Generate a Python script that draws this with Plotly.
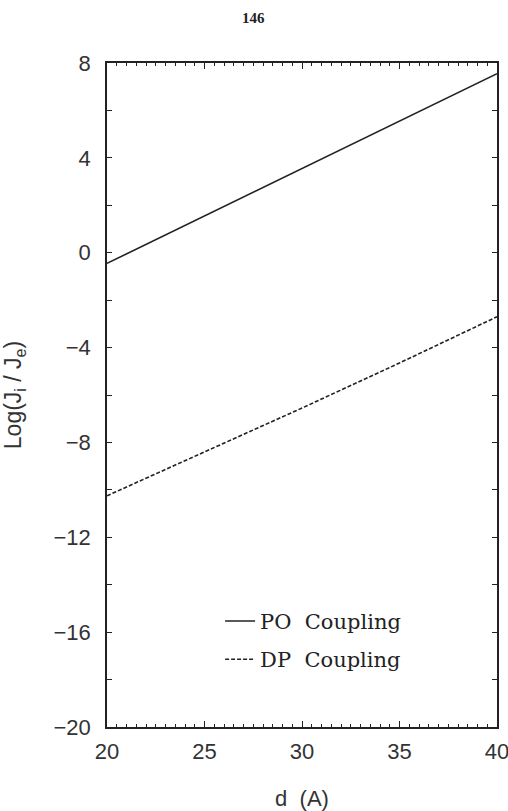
import plotly.graph_objects as go

d_vals = [20, 25, 30, 35, 40]
po_vals = [-0.45, 1.55, 3.55, 5.55, 7.55]
dp_vals = [-10.25, -8.4, -6.55, -4.65, -2.7]

series_names = ["PO  Coupling", "DP  Coupling"]
x_ticks = [20, 25, 30, 35, 40]
y_ticks = [8, 4, 0, -4, -8, -12, -16, -20]

ink = "#222222"
tickfont = dict(family="Liberation Sans, Arial, sans-serif", size=22, color="#333333")

fig = go.Figure()
fig.add_trace(go.Scatter(x=d_vals, y=po_vals, mode="lines", name=series_names[0],
                         legendgroup="a", line=dict(color=ink, width=1.6)))
fig.add_trace(go.Scatter(x=d_vals, y=dp_vals, mode="lines", name=series_names[1],
                         legendgroup="b", line=dict(color=ink, width=1.6, dash="4px,2px")))

fig.update_layout(
    width=508, height=811,
    margin=dict(l=107, r=11, t=63, b=84, autoexpand=False),
    paper_bgcolor="white", plot_bgcolor="white",
    showlegend=True,
    legend=dict(x=0.29, y=0.19, xanchor="left", yanchor="top",
                font=dict(family="DejaVu Serif, Liberation Serif, serif", size=21, color=ink),
                bgcolor="rgba(0,0,0,0)", itemwidth=30, tracegroupgap=8),
    annotations=[dict(text="<b>146</b>", xref="paper", yref="paper", x=0.5, y=1,
                      yshift=55, xshift=-49, showarrow=False,
                      font=dict(family="Liberation Serif, serif", size=15, color=ink))],
)

fig.update_xaxes(
    range=[20, 40], tickvals=x_ticks, ticktext=[str(v) for v in x_ticks],
    ticks="inside", ticklen=6, tickwidth=1.3, tickcolor=ink,
    minor=dict(dtick=0.5, tick0=20, ticks="inside", ticklen=3, tickwidth=1, tickcolor=ink),
    showline=True, linecolor=ink, linewidth=1.6, mirror="ticks",
    showgrid=False, zeroline=False, tickfont=tickfont, automargin=False,
    ticklabelstandoff=4, ticklabeloverflow="allow",
    title=dict(text="d  (A)", font=dict(family="Liberation Sans, Arial, sans-serif", size=22, color="#333333"), standoff=28),
)
fig.update_yaxes(
    range=[-20, 8], tickvals=y_ticks, ticktext=[str(v).replace("-", "\u2212") for v in y_ticks],
    ticks="inside", ticklen=5, tickwidth=1.3, tickcolor=ink,
    minor=dict(dtick=2, tick0=0, ticks="inside", ticklen=5, tickwidth=1.3, tickcolor=ink),
    showline=True, linecolor=ink, linewidth=1.6, mirror="ticks",
    showgrid=False, zeroline=False, tickfont=tickfont, automargin=False,
    ticklabelstandoff=10, ticklabeloverflow="allow",
    title=dict(text="Log(J<sub>i</sub> / J<sub>e</sub>)", font=dict(family="Liberation Sans, Arial, sans-serif", size=23, color="#333333"), standoff=30),
)

fig.write_html("out.html")
